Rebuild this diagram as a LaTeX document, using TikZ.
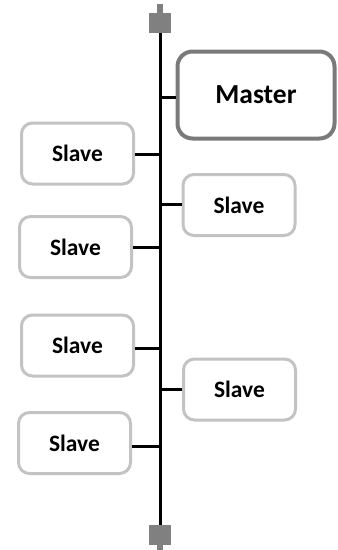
\documentclass[tikz,border=0pt]{standalone}
\usepackage{fontspec}
\setmainfont{Carlito}
\definecolor{termgray}{HTML}{808080}
\definecolor{mastergray}{HTML}{7A7A7A}
\definecolor{slavegray}{HTML}{C3C3C3}
\tikzset{
  slavebox/.style={draw=slavegray, line width=3pt, rounded corners=11pt, minimum width=112pt, minimum height=61pt, font=\fontsize{23.5}{25}\selectfont\bfseries, inner sep=0pt},
  masterbox/.style={draw=mastergray, line width=4pt, rounded corners=15pt, minimum width=157pt, minimum height=87pt, font=\fontsize{27.5}{29}\selectfont\bfseries, inner sep=0pt},
  busline/.style={line width=3pt, black},
  term/.style={fill=termgray, draw=none, minimum width=22pt, minimum height=20pt, inner sep=0pt},
  stub/.style={fill=termgray, draw=none, minimum width=6pt, minimum height=9pt, inner sep=0pt}
}
\begin{document}
\begin{tikzpicture}[x=1pt,y=-1pt]
\useasboundingbox (0,0) rectangle (338,550);
\node[term] (ttop) at (160,23) {};
\node[stub] (stop) at (160,8.5) {};
\node[term] (tbot) at (160,535) {};
\node[stub] (sbot) at (160,546) {};
\draw[busline] (ttop.south) -- (tbot.north);

\node[masterbox] (m) at (256,95) {Master};
\node[slavebox] (s1) at (77.5,153.5) {Slave};
\node[slavebox] (s2) at (239,205) {Slave};
\node[slavebox] (s3) at (75.5,247) {Slave};
\node[slavebox] (s4) at (77.5,345.5) {Slave};
\node[slavebox] (s5) at (239.5,389.5) {Slave};
\node[slavebox] (s6) at (74.5,443) {Slave};

\foreach \n/\y in {m/97, s2/204, s5/389}{
  \coordinate (c\n) at (160,\y);
  \draw[busline] (c\n) -- (\n.west |- c\n);
}
\foreach \n/\y in {s1/154, s3/247, s4/348, s6/446}{
  \coordinate (c\n) at (160,\y);
  \draw[busline] (c\n) -- (\n.east |- c\n);
}
\end{tikzpicture}
\end{document}
